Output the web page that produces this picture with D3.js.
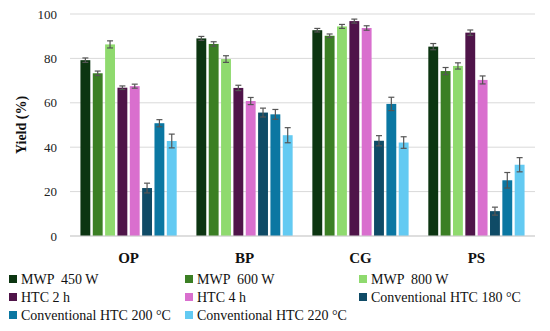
<!DOCTYPE html>
<html>
<head>
<meta charset="utf-8">
<script src="https://cdn.jsdelivr.net/npm/d3@7"></script>
<style>
  body { margin: 0; background: #fff; }
  svg text { font-family: "Liberation Serif", "DejaVu Serif", serif; }
</style>
</head>
<body>
<div id="chart"></div>
<script>
// categories and series
const categories = ["OP", "BP", "CG", "PS"];
const seriesNames = ["MWP  450 W", "MWP  600 W", "MWP  800 W", "HTC 2 h", "HTC 4 h",
  "Conventional HTC 180 °C", "Conventional HTC 200 °C", "Conventional HTC 220 °C"];
const seriesColors = ["#0c3511", "#3b7f24", "#8fda6e", "#4f1449", "#d96fce", "#0f4b66", "#0b77a2", "#63caf2"];

// yield (%) per series, in category order OP, BP, CG, PS
const mwp450 = [79.2, 89.0, 92.7, 85.3];
const mwp600 = [73.3, 86.5, 90.2, 74.3];
const mwp800 = [86.3, 79.7, 94.4, 76.6];
const htc2h = [66.8, 66.7, 96.8, 91.6];
const htc4h = [67.5, 60.8, 93.7, 70.3];
const conv180 = [21.6, 55.6, 42.9, 11.2];
const conv200 = [50.8, 54.8, 59.5, 25.1];
const conv220 = [42.8, 45.4, 42.1, 32.1];

// error bar half widths
const err450 = [1.0, 0.9, 0.8, 1.4];
const err600 = [1.0, 1.0, 0.8, 1.6];
const err800 = [1.6, 1.5, 0.9, 1.4];
const err2h = [0.8, 1.2, 0.9, 1.2];
const err4h = [0.9, 1.6, 1.0, 1.8];
const err180 = [2.2, 2.0, 2.3, 1.8];
const err200 = [1.6, 2.2, 3.0, 3.5];
const err220 = [3.1, 3.4, 2.6, 3.2];

const yTicks = [0, 20, 40, 60, 80, 100];

const values = [mwp450, mwp600, mwp800, htc2h, htc4h, conv180, conv200, conv220];
const errors = [err450, err600, err800, err2h, err4h, err180, err200, err220];

const data = [];
categories.forEach((c, ci) => {
  seriesNames.forEach((s, si) => {
    data.push({ cat: c, series: s, si: si, v: values[si][ci], e: errors[si][ci] });
  });
});

const W = 550, H = 331;
const margin = { left: 70, right: 15, top: 14, bottom: 95 };
const serif = "'Liberation Serif', 'DejaVu Serif', serif";

const svg = d3.select("#chart").append("svg")
  .attr("width", W).attr("height", H)
  .attr("font-family", serif);

const x0 = d3.scaleBand().domain(categories)
  .range([margin.left, W - margin.right]).paddingInner(0.17).paddingOuter(0.09);
const x1 = d3.scaleBand().domain(d3.range(seriesNames.length))
  .range([0, x0.bandwidth()]).paddingInner(0.2).paddingOuter(0);
const y = d3.scaleLinear().domain([0, 100]).range([H - margin.bottom, margin.top]);

// gridlines
svg.append("g")
  .selectAll("line")
  .data(yTicks)
  .join("line")
  .attr("x1", margin.left).attr("x2", W - margin.right)
  .attr("y1", d => y(d)).attr("y2", d => y(d))
  .attr("stroke", "#d9d9d9").attr("stroke-width", 1);

// y axis labels
const yAxis = d3.axisLeft(y).tickValues(yTicks).tickSize(0).tickPadding(13);
const gy = svg.append("g")
  .attr("transform", "translate(" + margin.left + ",0)")
  .call(yAxis)
  .attr("font-family", serif)
  .attr("font-size", 13);
gy.select(".domain").remove();
gy.selectAll("text").attr("fill", "#222");

svg.append("text")
  .attr("transform", "translate(26," + y(50) + ") rotate(-90)")
  .attr("text-anchor", "middle")
  .attr("font-family", serif)
  .attr("font-size", 14).attr("font-weight", "bold")
  .attr("fill", "#111")
  .text("Yield (%)");

// bars
const bars = svg.append("g");
bars.selectAll("rect")
  .data(data)
  .join("rect")
  .attr("x", d => x0(d.cat) + x1(d.si))
  .attr("width", x1.bandwidth())
  .attr("y", d => y(d.v))
  .attr("height", d => y(0) - y(d.v))
  .attr("fill", d => seriesColors[d.si]);

// error bars
const eb = svg.append("g").attr("stroke", "#555").attr("stroke-width", 1.2);
const cx = d => x0(d.cat) + x1(d.si) + x1.bandwidth() / 2;
eb.selectAll("line.v")
  .data(data)
  .join("line")
  .attr("class", "v")
  .attr("x1", cx).attr("x2", cx)
  .attr("y1", d => y(d.v - d.e)).attr("y2", d => y(d.v + d.e));
["lo", "hi"].forEach(k => {
  eb.selectAll("line." + k)
    .data(data)
    .join("line")
    .attr("class", k)
    .attr("x1", d => cx(d) - 3)
    .attr("x2", d => cx(d) + 3)
    .attr("y1", d => y(k === "lo" ? d.v - d.e : d.v + d.e))
    .attr("y2", d => y(k === "lo" ? d.v - d.e : d.v + d.e));
});

// x axis line
svg.append("line")
  .attr("x1", margin.left).attr("x2", W - margin.right)
  .attr("y1", y(0)).attr("y2", y(0))
  .attr("stroke", "#d0d0d0").attr("stroke-width", 1);

// category labels
svg.append("g")
  .selectAll("text")
  .data(categories)
  .join("text")
  .attr("x", d => x0(d) + x0.bandwidth() / 2)
  .attr("y", y(0) + 27)
  .attr("text-anchor", "middle")
  .attr("font-size", 15).attr("font-weight", "bold")
  .attr("fill", "#111")
  .text(d => d);

// legend
const legCols = [9, 185, 359];
const legRows = [279, 297, 315];
const leg = svg.append("g")
  .selectAll("g")
  .data(seriesNames)
  .join("g")
  .attr("transform", (d, i) => "translate(" + legCols[i % 3] + "," + legRows[Math.floor(i / 3)] + ")");
leg.append("rect")
  .attr("x", 0).attr("y", -4)
  .attr("width", 8).attr("height", 8)
  .attr("fill", (d, i) => seriesColors[i]);
leg.append("text")
  .attr("x", 12).attr("y", 5)
  .attr("font-size", 14).attr("fill", "#111")
  .style("white-space", "pre")
  .text(d => d);
</script>
</body>
</html>
